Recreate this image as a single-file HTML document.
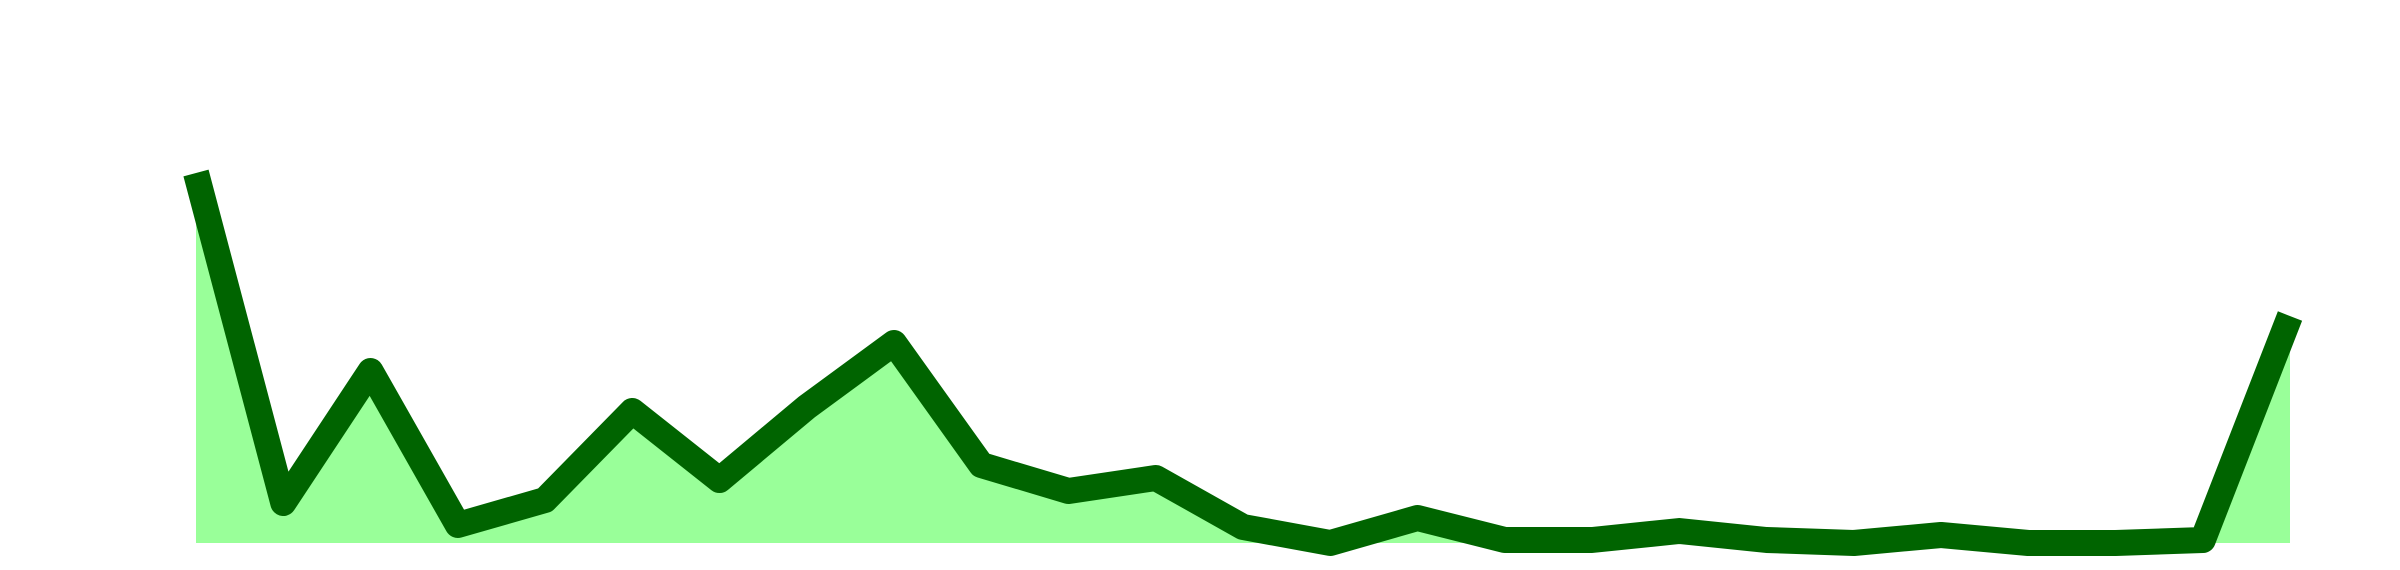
<!DOCTYPE html>
<html><head><meta charset="utf-8"><style>html,body{margin:0;padding:0;background:#fff;width:2400px;height:570px;overflow:hidden}</style></head>
<body>
<svg id="chart" width="2400" height="570" xmlns="http://www.w3.org/2000/svg"></svg>
<script>
const categories = Array.from({length:25},(_,i)=>'P'+(i+1));
const values = [370,40,172,18,43,132,63,136,200,78,52,65,16,0,25,3,3,12,3,0,8,0,0,3,227];
const svg = document.getElementById('chart');
const NS = 'http://www.w3.org/2000/svg';
const x0 = 196, x1 = 2290, y0 = 543, yTop = 143, vMax = 400;
function xScale(i){return x0 + (x1-x0)*i/(categories.length-1);}
function yScale(v){return y0 - (y0-yTop)*v/vMax;}
const pts = values.map((v,i)=>xScale(i).toFixed(1)+','+yScale(v).toFixed(1));
const area = document.createElementNS(NS,'path');
area.setAttribute('d','M'+xScale(0)+','+y0+' L'+pts.join(' L')+' L'+xScale(values.length-1)+','+y0+' Z');
area.setAttribute('fill','#99ff99');


svg.appendChild(area);
const line = document.createElementNS(NS,'path');
line.setAttribute('d','M'+pts.join(' L'));
line.setAttribute('fill','none');
line.setAttribute('stroke','#006400');
line.setAttribute('stroke-width','26');
line.setAttribute('stroke-linejoin','round');


svg.appendChild(line);
</script>
</body></html>
